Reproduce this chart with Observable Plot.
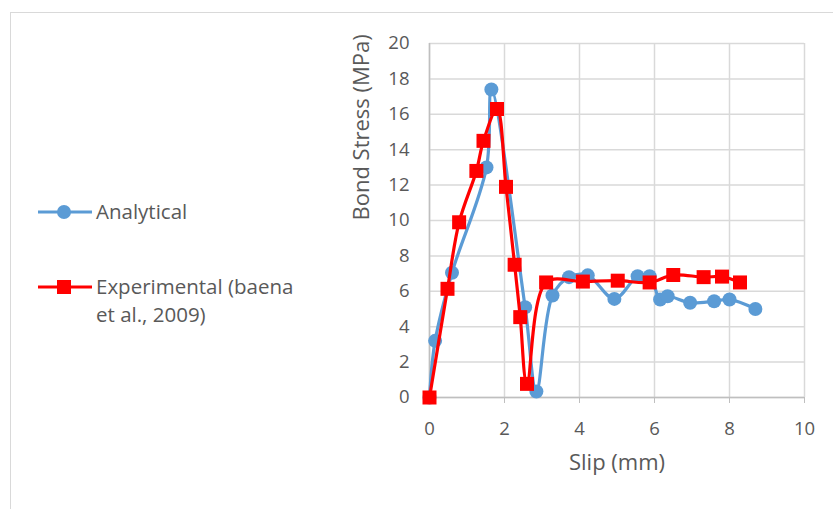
<!DOCTYPE html>
<html>
<head>
<meta charset="utf-8">
<script src="https://cdn.jsdelivr.net/npm/d3@7"></script>
<script src="https://cdn.jsdelivr.net/npm/@observablehq/plot@0.6"></script>
<style>
  html, body { margin: 0; padding: 0; background: #fff; }
  #wrap { position: relative; width: 833px; height: 509px; overflow: hidden; font-family: "Open Sans", sans-serif; }
  #frame { position: absolute; left: 10px; top: 12px; width: 840px; height: 520px; border-left: 1.5px solid #d9d9d9; border-top: 1.5px solid #d9d9d9; }
  #chart { position: absolute; left: 0; top: 0; }
  .legend { position: absolute; left: 38px; color: #595959; font-size: 20.5px; line-height: 28px; }
  .legend svg { position: absolute; left: 0; }
  .legend span { position: absolute; left: 58px; white-space: nowrap; }
</style>
</head>
<body>
<div id="wrap">
  <div id="frame"></div>
  <div id="chart"></div>
  <div class="legend" style="top:198px">
    <svg width="54" height="28" style="top:0"><line x1="0" x2="54" y1="14" y2="14" stroke="#5b9bd5" stroke-width="3"/><circle cx="26" cy="14" r="7" fill="#5b9bd5"/></svg>
    <span style="top:-1px">Analytical</span>
  </div>
  <div class="legend" style="top:273px">
    <svg width="54" height="28" style="top:0"><line x1="0" x2="54" y1="14" y2="14" stroke="#ff0000" stroke-width="3"/><rect x="19" y="7" width="14" height="14" fill="#ff0000"/></svg>
    <span style="top:-1px">Experimental (baena</span>
    <span style="top:27px">et al., 2009)</span>
  </div>
</div>
<script>
// Analytical bond stress–slip curve
const slipAnalytical = [0, 0.15, 0.6, 1.52, 1.65, 2.55, 2.85, 3.28, 3.72, 4.22, 4.93, 5.55, 5.87, 6.15, 6.35, 6.95, 7.59, 8.0, 8.69];
const stressAnalytical = [0, 3.2, 7.05, 13.0, 17.4, 5.1, 0.34, 5.76, 6.8, 6.9, 5.57, 6.85, 6.85, 5.54, 5.72, 5.35, 5.44, 5.54, 5.0];

// Experimental results (Baena et al., 2009)
const slipExperimental = [0, 0.48, 0.79, 1.25, 1.44, 1.8, 2.04, 2.27, 2.42, 2.6, 3.11, 4.09, 5.02, 5.87, 6.5, 7.31, 7.8, 8.28];
const stressExperimental = [0, 6.14, 9.9, 12.8, 14.5, 16.3, 11.9, 7.5, 4.54, 0.77, 6.5, 6.55, 6.6, 6.5, 6.92, 6.8, 6.83, 6.5];

const xTicks = [0, 2, 4, 6, 8, 10];
const yTicks = [0, 2, 4, 6, 8, 10, 12, 14, 16, 18, 20];

const analytical = slipAnalytical.map((s, i) => ({slip: s, stress: stressAnalytical[i]}));
const experimental = slipExperimental.map((s, i) => ({slip: s, stress: stressExperimental[i]}));

const textColor = "#595959";
const gridColor = "#d9d9d9";

const chart = Plot.plot({
  width: 833,
  height: 509,
  marginLeft: 429,
  marginRight: 29,
  marginTop: 43,
  marginBottom: 112,
  style: {fontFamily: "'Open Sans', sans-serif", fontSize: "18.5px", color: textColor, background: "transparent"},
  x: {domain: [0, 10]},
  y: {domain: [0, 20]},
  marks: [
    Plot.gridX(xTicks, {stroke: gridColor, strokeOpacity: 1, strokeWidth: 1.5}),
    Plot.gridY(yTicks, {stroke: gridColor, strokeOpacity: 1, strokeWidth: 1.5}),
    Plot.ruleX([0], {stroke: "#bfbfbf", strokeWidth: 1.5}),
    Plot.ruleY([0], {stroke: "#bfbfbf", strokeWidth: 1.5}),
    Plot.axisX(xTicks, {tickSize: 6, tickPadding: 18, stroke: "#bfbfbf", fill: textColor, fontSize: 18.5, label: null}),
    Plot.axisY(yTicks, {tickSize: 0, tickPadding: 20, fill: textColor, fontSize: 18.5, label: null}),
    Plot.text(["Slip (mm)"], {frameAnchor: "bottom", dy: 72, fontSize: 22, fill: textColor}),
    Plot.text(["Bond Stress (MPa)"], {frameAnchor: "left", dx: -68, rotate: -90, fontSize: 22, fill: textColor}),
    Plot.line(analytical, {x: "slip", y: "stress", stroke: "#5b9bd5", strokeWidth: 3.2, curve: "catmull-rom"}),
    Plot.dot(analytical, {x: "slip", y: "stress", r: 7, fill: "#5b9bd5", symbol: "circle"}),
    Plot.line(experimental, {x: "slip", y: "stress", stroke: "#ff0000", strokeWidth: 3.2, curve: "catmull-rom"}),
    Plot.dot(experimental, {x: "slip", y: "stress", r: 7.9, fill: "#ff0000", symbol: "square"})
  ]
});
document.getElementById("chart").appendChild(chart);
</script>
</body>
</html>
